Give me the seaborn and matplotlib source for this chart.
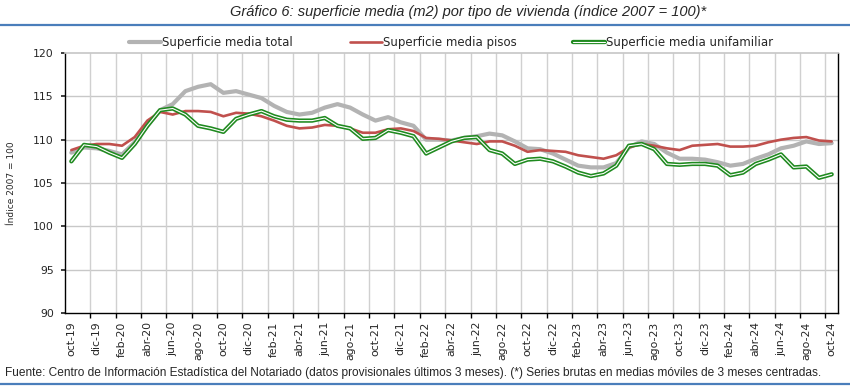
import numpy as np
import pandas as pd
import matplotlib
matplotlib.use("Agg")
import matplotlib.pyplot as plt
import matplotlib.patheffects as pe
import seaborn as sns

# meses oct-19 .. oct-24
meses = ["ene", "feb", "mar", "abr", "may", "jun", "jul", "ago", "sep", "oct", "nov", "dic"]
periodos = [f"{meses[(9 + i) % 12]}-{19 + (9 + i) // 12}" for i in range(61)]

total = [108.5, 109.1, 109.0, 108.7, 108.3, 109.7, 111.6, 113.4, 114.1, 115.6,
         116.1, 116.4, 115.4, 115.6, 115.2, 114.8, 113.9, 113.2, 112.9, 113.1,
         113.7, 114.1, 113.7, 112.9, 112.2, 112.6, 112.0, 111.6, 110.0, 110.0,
         109.9, 110.2, 110.4, 110.7, 110.5, 109.8, 109.0, 108.9, 108.4, 107.7,
         107.0, 106.8, 106.8, 107.3, 109.1, 109.8, 109.5, 108.5, 107.8, 107.8,
         107.7, 107.4, 107.0, 107.2, 107.8, 108.3, 109.0, 109.3, 109.8, 109.5,
         109.6]
pisos = [108.8, 109.3, 109.5, 109.5, 109.3, 110.3, 112.2, 113.2, 112.9, 113.3,
         113.3, 113.2, 112.7, 113.1, 113.0, 112.7, 112.2, 111.6, 111.3, 111.4,
         111.7, 111.6, 111.3, 110.8, 110.8, 111.2, 111.3, 111.0, 110.2, 110.1,
         109.9, 109.7, 109.5, 109.8, 109.8, 109.3, 108.6, 108.8, 108.7, 108.6,
         108.2, 108.0, 107.8, 108.2, 109.1, 109.5, 109.3, 109.0, 108.8, 109.3,
         109.4, 109.5, 109.2, 109.2, 109.3, 109.7, 110.0, 110.2, 110.3, 109.9,
         109.8]
unifamiliar = [107.5, 109.4, 109.2, 108.5, 107.9, 109.5, 111.6, 113.4, 113.6, 112.9,
               111.6, 111.3, 110.9, 112.4, 112.9, 113.3, 112.7, 112.3, 112.2, 112.2,
               112.5, 111.6, 111.3, 110.1, 110.2, 111.1, 110.8, 110.4, 108.4, 109.1,
               109.8, 110.2, 110.3, 108.8, 108.4, 107.2, 107.7, 107.8, 107.5, 106.9,
               106.2, 105.8, 106.1, 107.0, 109.3, 109.5, 108.9, 107.2, 107.1, 107.2,
               107.2, 107.0, 105.9, 106.2, 107.2, 107.7, 108.3, 106.8, 106.9, 105.6,
               106.0]

df = pd.DataFrame({"pos": np.arange(len(periodos)), "periodo": periodos,
                   "total": total, "pisos": pisos, "unifamiliar": unifamiliar})

sns.set_theme(style="white")
plt.rcParams["font.family"] = ["DejaVu Sans"]

fig = plt.figure(figsize=(8.5, 3.86), dpi=100)
ax = fig.add_axes([65 / 850, 1 - 313 / 386, (838 - 65) / 850, (313 - 53) / 386])

sns.lineplot(data=df, x="pos", y="total", ax=ax, color="#b3b3b3", lw=3.0,
             label="Superficie media total")
sns.lineplot(data=df, x="pos", y="pisos", ax=ax, color="#c0504d", lw=1.9,
             label="Superficie media pisos")
sns.lineplot(data=df, x="pos", y="unifamiliar", ax=ax, color="white", lw=0.8,
             label="Superficie media unifamiliar",
             path_effects=[pe.Stroke(linewidth=3.1, foreground="#1f8a1f"), pe.Normal()])

ax.set_xlim(-0.5, len(periodos) - 0.5)
ax.set_ylim(90, 120)
ax.set_yticks(range(90, 121, 5))
ax.tick_params(axis="y", labelsize=7.8, length=3, direction="out", left=True, pad=5)

ax.set_xticks(df["pos"][::2])
ax.set_xticklabels(df["periodo"][::2], rotation=90, fontsize=7.8)
ax.set_xticks(np.arange(1.5, len(periodos) - 1, 2), minor=True)
ax.tick_params(axis="x", which="major", length=0, pad=6)
ax.tick_params(axis="x", which="minor", length=3.5, direction="out", bottom=True, color="black")

for y in range(95, 120, 5):
    ax.axhline(y, color="#c8c8c8", lw=1.0, zorder=0)
for x in np.arange(1.5, len(periodos) - 1, 2):
    ax.axvline(x, color="#d0d0d0", lw=1.0, zorder=0)

for s in ["left", "bottom", "right"]:
    ax.spines[s].set_color("black")
    ax.spines[s].set_linewidth(1.0)
ax.spines["top"].set_color("#c8c8c8")

ax.set_xlabel("")
ax.set_ylabel("Índice 2007 = 100", fontsize=6.5, labelpad=12)

ax.legend(loc="center", bbox_to_anchor=(0.5, 1.04), ncol=3, frameon=False,
          fontsize=8.5, handlelength=2.7, handletextpad=0.1, columnspacing=4.8,
          borderaxespad=0)

fig.text(468 / 850, 0.968, "Gráfico 6: superficie media (m2) por tipo de vivienda (índice 2007 = 100)*",
         ha="center", va="center", fontsize=10.5, style="italic",
         family=["Liberation Sans", "DejaVu Sans"])
fig.add_artist(plt.Line2D([0, 1], [1 - 25 / 386, 1 - 25 / 386], color="#4a7ebb", lw=1.6))
fig.add_artist(plt.Line2D([0, 1], [1 - 384 / 386, 1 - 384 / 386], color="#4a7ebb", lw=1.6))
fig.text(0.006, 1 - 373 / 386,
         "Fuente: Centro de Información Estadística del Notariado (datos provisionales últimos 3 meses). "
         "(*) Series brutas en medias móviles de 3 meses centradas.",
         ha="left", va="center", fontsize=8.6,
         family=["Liberation Sans", "DejaVu Sans"])

fig.savefig("out.png", dpi=100)
